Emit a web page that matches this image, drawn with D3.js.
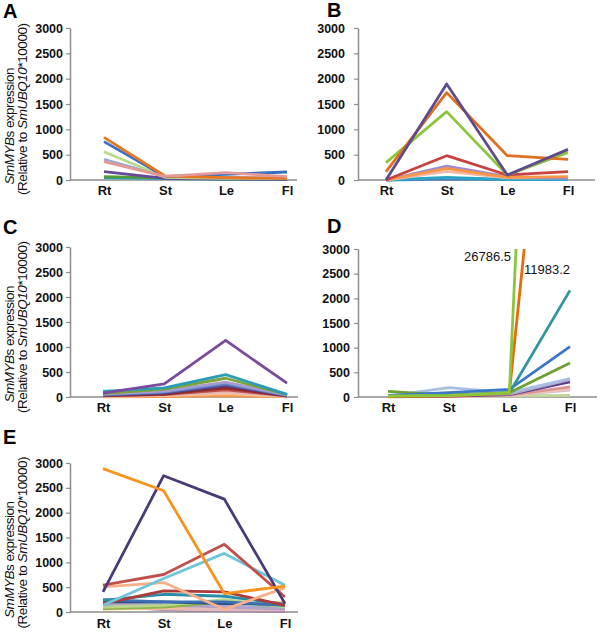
<!DOCTYPE html>
<html>
<head>
<meta charset="utf-8">
<script src="https://cdn.jsdelivr.net/npm/d3@7"></script>
<style>
html,body{margin:0;padding:0;background:#fff;}
svg{display:block;}
text{font-family:"Liberation Sans",Arial,sans-serif;}
</style>
</head>
<body>
<svg id="chart" width="600" height="632"></svg>
<script>
// ---------- DATA ----------
const categories = ["Rt", "St", "Le", "Fl"];
const yTicks = [0, 500, 1000, 1500, 2000, 2500, 3000];

// Panel A series (values at Rt, St, Le, Fl)
const seriesA = [
  [46, 30, 20, 15],
  [66, 40, 25, 20],
  [164, 33, 20, 13],
  [408, 66, 50, 40],
  [559, 53, 33, 33],
  [757, 66, 112, 158],
  [842, 79, 46, 33],
  [362, 70, 145, 66]
];
const colorsA = ["#2aa0b8", "#4f9a3a", "#644a9a", "#95acd6", "#b8d98a", "#3a70c0", "#e8751f", "#e39a96"];

// Panel B
const seriesB = [
  [0, 20, 10, 10],
  [0, 53, 10, 10],
  [0, 170, 40, 40],
  [0, 276, 66, 33],
  [0, 230, 53, 66],
  [0, 480, 99, 164],
  [342, 1349, 99, 546],
  [164, 1724, 480, 408],
  [0, 1895, 99, 605]
];
const colorsB = ["#4f81bd", "#2aa6c4", "#f2b8a8", "#9b8bd0", "#f79646", "#c9413f", "#8cc63f", "#e07020", "#5f4b8b"];

// Panel C
const seriesC = [
  [5, 10, 30, 5],
  [10, 30, 66, 10],
  [15, 40, 99, 15],
  [25, 50, 145, 20],
  [30, 60, 184, 25],
  [40, 80, 230, 30],
  [50, 100, 263, 35],
  [60, 120, 296, 40],
  [70, 160, 375, 47],
  [112, 184, 447, 53],
  [79, 263, 1131, 276]
];
const colorsC = ["#f79646", "#fac090", "#e6b9b8", "#c0504d", "#8c2a2a", "#5c3f8a", "#5b86c8", "#a99bd0", "#7aa33a", "#2c9cb4", "#7a4a9e"];

// Panel D
const seriesD = [
  [5, 10, 20, 33],
  [5, 20, 30, 140],
  [5, 10, 30, 167],
  [10, 20, 40, 207],
  [10, 20, 50, 307],
  [15, 60, 60, 353],
  [20, 190, 87, 373],
  [113, 40, 87, 687],
  [33, 87, 153, 1020],
  [10, 30, 81, 2162],
  [10, 20, 80, 11983.2],
  [20, 30, 81, 26786.5]
];
const colorsD = ["#c3d69b", "#ccc0da", "#f2c2b0", "#d99694", "#5c3c8c", "#b3a2c7", "#a8bfe2", "#6fa030", "#3c78c8", "#31949f", "#e46c0a", "#8cc63f"];
const labelsD = ["26786.5", "11983.2"];

// Panel E
const seriesE = [
  [120, 50, 30, 20],
  [90, 60, 40, 40],
  [60, 80, 150, 200],
  [230, 150, 120, 80],
  [169, 135, 101, 60],
  [67, 101, 202, 115],
  [101, 135, 250, 101],
  [202, 202, 169, 155],
  [250, 202, 202, 135],
  [236, 357, 317, 155],
  [169, 425, 405, 135],
  [505, 593, 54, 485],
  [135, 674, 1180, 539],
  [540, 755, 1362, 303],
  [405, 2744, 2272, 169],
  [2886, 2441, 371, 519]
];
const colorsE = ["#8064a2", "#e6b9b8", "#fac090", "#95b3d7", "#b3a2c7", "#8ab34a", "#b9d48c", "#2b4f82", "#3d6fb5", "#2a8ea6", "#b03a3a", "#f7b08a", "#70c5dc", "#c0504d", "#4a3b78", "#f7941d"];

// ---------- LAYOUT ----------
const panels = [
  {key: "A", series: seriesA, colors: colorsA, x0: 70, x1: 297, px0: 104, px1: 287, yTop: 28, yBot: 180, lx: 3, ly: 18, ylabel: true, pad: 3, catY: 199},
  {key: "B", series: seriesB, colors: colorsB, x0: 358, x1: 595, px0: 386, px1: 568, yTop: 28, yBot: 180, lx: 327, ly: 17, ylabel: false, pad: 9, catY: 199},
  {key: "C", series: seriesC, colors: colorsC, x0: 70, x1: 298, px0: 103, px1: 287, yTop: 247, yBot: 397, lx: 3, ly: 234, ylabel: true, pad: 3, catY: 416},
  {key: "D", series: seriesD, colors: colorsD, x0: 358, x1: 597, px0: 388, px1: 570, yTop: 249, yBot: 397, lx: 327, ly: 233, ylabel: false, pad: 4, catY: 416},
  {key: "E", series: seriesE, colors: colorsE, x0: 70, x1: 298, px0: 103, px1: 285, yTop: 463, yBot: 612, lx: 3, ly: 444, ylabel: true, pad: 3, catY: 632}
];

const svg = d3.select("#chart");
const defs = svg.append("defs");
const axisColor = "#8c8c8c";

panels.forEach((p, i) => {
  const g = svg.append("g");
  const x = d3.scalePoint().domain(categories).range([p.px0, p.px1]);
  const y = d3.scaleLinear().domain([0, 3000]).range([p.yBot, p.yTop]);

  // panel letter
  g.append("text").attr("x", p.lx).attr("y", p.ly)
    .attr("font-size", 20).attr("font-weight", "bold").attr("fill", "#000")
    .text(p.key);

  // y axis
  const ya = g.append("g").attr("transform", `translate(${p.x0},0)`)
    .call(d3.axisLeft(y).tickValues(yTicks).tickSize(4).tickSizeOuter(0).tickPadding(p.pad).tickFormat(d3.format("d")));
  ya.selectAll("path.domain").attr("stroke", axisColor).attr("stroke-width", 1.5);
  ya.selectAll(".tick line").attr("stroke", axisColor).attr("stroke-width", 1.2);
  ya.selectAll(".tick text").attr("font-size", 12.5).attr("font-weight", "bold").attr("fill", "#111")
    .attr("font-family", "'Liberation Sans', Arial, sans-serif");

  // x axis line
  g.append("line").attr("x1", p.x0).attr("x2", p.x1).attr("y1", p.yBot).attr("y2", p.yBot)
    .attr("stroke", axisColor).attr("stroke-width", 1.5);

  // x category labels via axis
  const xa = g.append("g").attr("transform", `translate(0,${p.catY - 13})`)
    .call(d3.axisBottom(x).tickSize(0).tickPadding(0));
  xa.select("path.domain").remove();
  xa.selectAll(".tick text").attr("font-size", 13).attr("font-weight", "bold").attr("fill", "#111")
    .attr("dy", "0.71em").attr("font-family", "'Liberation Sans', Arial, sans-serif");

  // clip
  const cid = "clip" + p.key;
  defs.append("clipPath").attr("id", cid).append("rect")
    .attr("x", p.x0).attr("y", p.yTop).attr("width", p.x1 - p.x0).attr("height", p.yBot - p.yTop + 3);

  const line = d3.line().x((d, j) => x(categories[j])).y(d => y(d));
  g.append("g").attr("clip-path", `url(#${cid})`)
    .selectAll("path").data(p.series).join("path")
    .attr("d", line)
    .attr("fill", "none")
    .attr("stroke", (d, j) => p.colors[j])
    .attr("stroke-width", 2.8)
    .attr("stroke-linejoin", "round")
    .attr("stroke-linecap", "butt");

  // y label
  if (p.ylabel) {
    const mid = (p.yTop + p.yBot) / 2;
    const t1 = g.append("text")
      .attr("transform", `translate(14,${mid + 22}) rotate(-90)`)
      .attr("text-anchor", "middle").attr("font-size", 13.5).attr("fill", "#111")
      .attr("textLength", 117).attr("lengthAdjust", "spacing");
    t1.append("tspan").attr("font-style", "italic").text("SmMYB");
    t1.append("tspan").text("s expression");
    const t2 = g.append("text")
      .attr("transform", `translate(27,${mid + 5}) rotate(-90)`)
      .attr("text-anchor", "middle").attr("font-size", 13.5).attr("fill", "#111")
      .attr("textLength", 172).attr("lengthAdjust", "spacing");
    t2.append("tspan").text("(Relative to ");
    t2.append("tspan").attr("font-style", "italic").text("SmUBQ10");
    t2.append("tspan").text("*10000)");
  }

  // D annotations
  if (p.key === "D") {
    g.append("text").attr("x", 511).attr("y", 261).attr("text-anchor", "end")
      .attr("font-size", 13).attr("fill", "#111").text(labelsD[0]);
    g.append("text").attr("x", 524).attr("y", 274).attr("text-anchor", "start")
      .attr("font-size", 13).attr("fill", "#111").text(labelsD[1]);
  }
});
</script>
</body>
</html>
